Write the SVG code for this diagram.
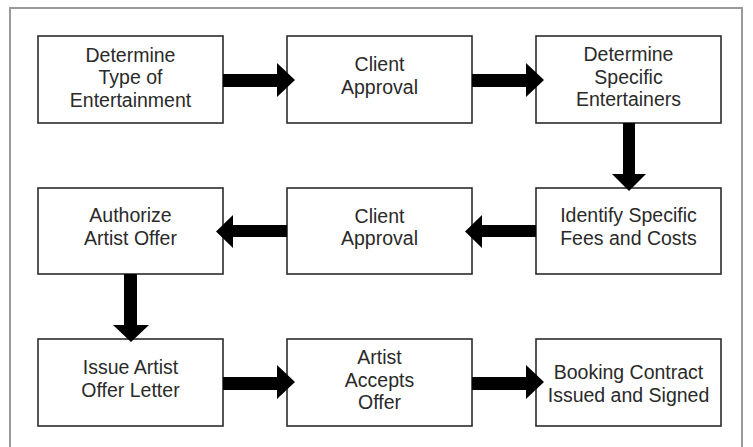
<svg xmlns="http://www.w3.org/2000/svg" width="753" height="447" viewBox="0 0 753 447">
<style>
.box{fill:#fff;stroke:#2b2b2b;stroke-width:1.6}
.t{font-family:"Liberation Sans",Arial,sans-serif;font-size:19.5px;fill:#2a2a2a;text-anchor:middle}
.arr{fill:#000}
</style>
<rect x="0" y="0" width="753" height="447" fill="#fff"/>
<rect x="10" y="8" width="732" height="446" fill="none" stroke="#9a9a9a" stroke-width="2"/>
<g id="n1"><rect class="box" x="38" y="36" width="185" height="87"/><text class="t"><tspan x="130.5" y="61.5">Determine</tspan><tspan x="130.5" y="84">Type of</tspan><tspan x="130.5" y="106.5">Entertainment</tspan></text></g>
<g id="n2"><rect class="box" x="287" y="36" width="185" height="87"/><text class="t"><tspan x="379.5" y="71">Client</tspan><tspan x="379.5" y="93.5">Approval</tspan></text></g>
<g id="n3"><rect class="box" x="536" y="36" width="185" height="87"/><text class="t"><tspan x="628.5" y="61">Determine</tspan><tspan x="628.5" y="83.5">Specific</tspan><tspan x="628.5" y="106">Entertainers</tspan></text></g>
<g id="n4"><rect class="box" x="38" y="188" width="185" height="86"/><text class="t"><tspan x="130.5" y="222">Authorize</tspan><tspan x="130.5" y="244.5">Artist Offer</tspan></text></g>
<g id="n5"><rect class="box" x="287" y="188" width="185" height="86"/><text class="t"><tspan x="379.5" y="222.5">Client</tspan><tspan x="379.5" y="244.5">Approval</tspan></text></g>
<g id="n6"><rect class="box" x="536" y="188" width="185" height="86"/><text class="t"><tspan x="628.5" y="222">Identify Specific</tspan><tspan x="628.5" y="245">Fees and Costs</tspan></text></g>
<g id="n7"><rect class="box" x="38" y="339" width="185" height="87"/><text class="t"><tspan x="130.5" y="374">Issue Artist</tspan><tspan x="130.5" y="396.5">Offer Letter</tspan></text></g>
<g id="n8"><rect class="box" x="287" y="339" width="185" height="87"/><text class="t"><tspan x="379.5" y="364">Artist</tspan><tspan x="379.5" y="386.5">Accepts</tspan><tspan x="379.5" y="409">Offer</tspan></text></g>
<g id="n9"><rect class="box" x="536" y="339" width="185" height="87"/><text class="t"><tspan x="628.5" y="378.5">Booking Contract</tspan><tspan x="628.5" y="401.5">Issued and Signed</tspan></text></g>
<g id="connectors">
<polygon class="arr" points="223,74 277,74 277,63 295,80 277,97 277,87 223,87"/>
<polygon class="arr" points="472,74 526,74 526,63 544,80 526,97 526,87 472,87"/>
<polygon class="arr" points="623,123 635,123 635,174 646,174 629,191 612,174 623,174"/>
<polygon class="arr" points="536,225 482,225 482,215 465,231.5 482,248 482,237 536,237"/>
<polygon class="arr" points="287,225 233,225 233,215 216,231.5 233,248 233,237 287,237"/>
<polygon class="arr" points="124,274 137,274 137,325 149,325 131,342 113,325 124,325"/>
<polygon class="arr" points="223,377 277,377 277,365 295,382 277,399 277,390 223,390"/>
<polygon class="arr" points="472,377 526,377 526,365 544,382 526,399 526,390 472,390"/>
</g>
</svg>
